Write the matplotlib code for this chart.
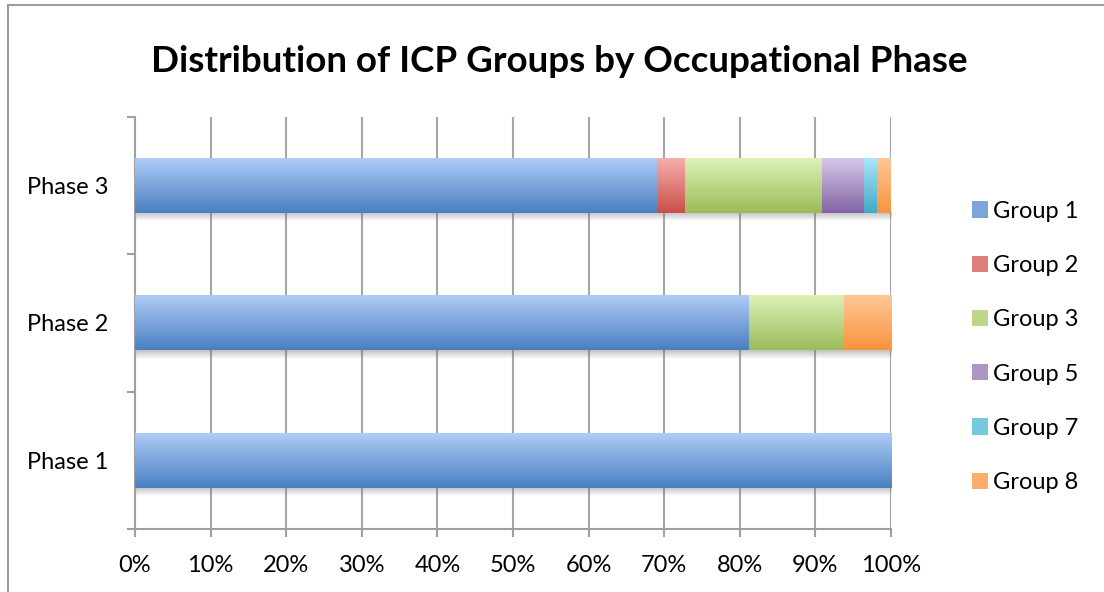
import numpy as np
import matplotlib
matplotlib.use("Agg")
import matplotlib.pyplot as plt
from matplotlib.colors import LinearSegmentedColormap, to_rgb
from matplotlib.patches import Patch, Rectangle

plt.rcParams['font.family'] = ['Lato', 'DejaVu Sans']

phases = ['Phase 1', 'Phase 2', 'Phase 3']
groups = ['Group 1', 'Group 2', 'Group 3', 'Group 5', 'Group 7', 'Group 8']
# share of each group per phase, in percent
share = {
    'Group 1': [100.0, 81.25, 69.09],
    'Group 2': [0.0, 0.0, 3.64],
    'Group 3': [0.0, 12.5, 18.18],
    'Group 5': [0.0, 0.0, 5.45],
    'Group 7': [0.0, 0.0, 1.82],
    'Group 8': [0.0, 6.25, 1.82],
}
# (top, bottom) colour of each bar's vertical gradient
grad_colors = {
    'Group 1': ('#AECBF6', '#4A80C2'),
    'Group 2': ('#F6AEAC', '#C94F4A'),
    'Group 3': ('#DDF2B6', '#9CBB5A'),
    'Group 5': ('#D5C6E8', '#8365A4'),
    'Group 7': ('#A8E6F8', '#43A9C6'),
    'Group 8': ('#FEC796', '#F7943E'),
}
mid_colors = {g: tuple((np.array(to_rgb(a)) + np.array(to_rgb(b))) / 2) for g, (a, b) in grad_colors.items()}

fig = plt.figure(figsize=(11.04, 5.92), dpi=100)
ax = fig.add_axes([0.1223, 0.1064, 0.6848, 0.696])

y = np.arange(len(phases))
bar_h = 0.4
left = np.zeros(len(phases))
grad = np.linspace(0, 1, 64).reshape(-1, 1)

# soft drop shadow under each bar row
totals = sum(np.array(share[g]) for g in groups)
shadow = np.zeros((32, 1, 4))
shadow[..., :3] = 0.45
shadow[:, 0, 3] = np.linspace(0.0, 0.45, 32)
for yi, tot in zip(y, totals):
    ax.imshow(shadow, extent=[0, tot + 0.4, yi - bar_h / 2 - 0.06, yi - bar_h / 2],
              aspect='auto', origin='lower', zorder=2, interpolation='bicubic')

for g in groups:
    vals = np.array(share[g])
    bars = ax.barh(y, vals, height=bar_h, left=left, color=mid_colors[g], zorder=3)
    cmap = LinearSegmentedColormap.from_list(g, [grad_colors[g][1], grad_colors[g][0]])
    for b in bars:
        if b.get_width() <= 0:
            continue
        x0, y0 = b.get_x(), b.get_y()
        ax.imshow(grad, cmap=cmap, aspect='auto', origin='lower', zorder=4,
                  extent=[x0, x0 + b.get_width(), y0, y0 + b.get_height()])
    left += vals

ax.set_xlim(0, 100)
ax.set_ylim(-0.5, 2.5)
ax.set_xticks(np.arange(0, 101, 10))
ax.set_xticklabels([f'{v}%' for v in range(0, 101, 10)], fontsize=17)
ax.set_yticks([-0.5, 0.5, 1.5, 2.5])
ax.set_yticklabels([])
ax.set_yticks(y, minor=True)
ax.set_yticklabels(phases, minor=True, fontsize=17)
ax.tick_params(axis='y', which='minor', length=0, pad=19)
ax.tick_params(axis='y', which='major', length=6, width=1.5, color='#A0A0A0')
ax.tick_params(axis='x', length=6, width=1.5, color='#A0A0A0', pad=13)

ax.grid(axis='x', color='#A6A6A6', linewidth=1.5, zorder=1)
ax.set_axisbelow(True)
for s in ['top', 'right']:
    ax.spines[s].set_visible(False)
for s in ['left', 'bottom']:
    ax.spines[s].set_color('#A0A0A0')
    ax.spines[s].set_linewidth(1.5)

fig.text(0.507, 0.896, 'Distribution of ICP Groups by Occupational Phase',
         ha='center', va='center', fontsize=26.5, fontweight='bold')

handles = [Patch(facecolor=mid_colors[g], edgecolor='none') for g in groups]
fig.legend(handles, groups, loc='center left', bbox_to_anchor=(0.861, 0.414),
           frameon=False, fontsize=17, handlelength=0.68, handleheight=0.68,
           handletextpad=0.2, labelspacing=1.41)

# chart-area border (left and top edges fall inside the image)
fig.patches.append(Rectangle((8 / 1104, -0.1), 1.2, 1 - 5 / 592 + 0.1, transform=fig.transFigure,
                             fill=False, edgecolor='#9C9C9C', linewidth=1.5))

fig.savefig('out.png', dpi=100)
